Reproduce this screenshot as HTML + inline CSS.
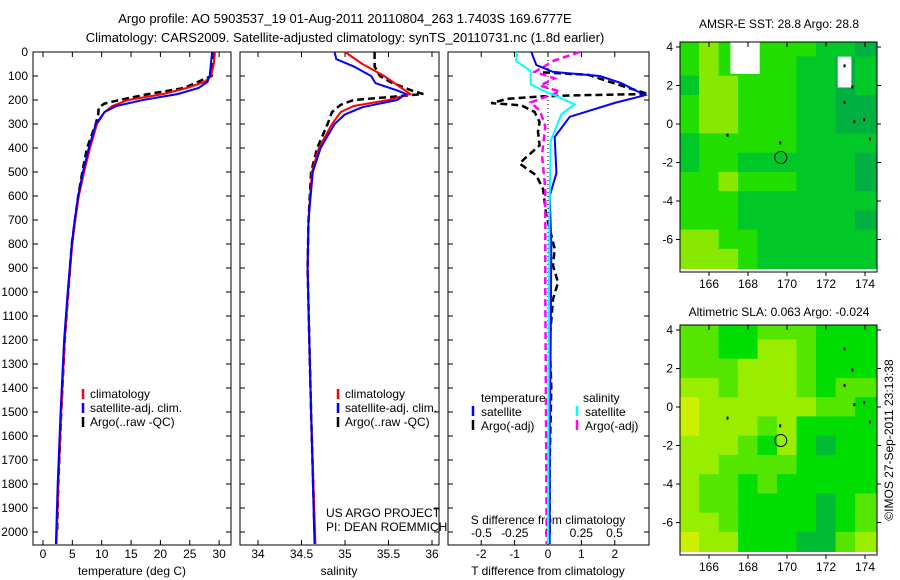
<!DOCTYPE html>
<html><head><meta charset="utf-8"><style>
body{margin:0;background:#fff}
svg{display:block;font-family:"Liberation Sans",sans-serif}
text{font-size:12px;fill:#000}
</style></head><body>
<svg id="s" width="900" height="580" viewBox="0 0 900 580">
<text x="345" y="23" text-anchor="middle" style="font-size:13px">Argo profile: AO 5903537_19 01-Aug-2011 20110804_263 1.7403S 169.6777E</text>
<text x="345" y="42" text-anchor="middle" style="font-size:13px">Climatology: CARS2009. Satellite-adjusted climatology: synTS_20110731.nc (1.8d earlier)</text>
<text x="779" y="28" text-anchor="middle">AMSR-E SST: 28.8 Argo: 28.8</text>
<text x="779" y="316" text-anchor="middle">Altimetric SLA: 0.063 Argo: -0.024</text>
<text transform="translate(893,440) rotate(-90)" text-anchor="middle">©IMOS 27-Sep-2011 23:13:38</text>
<g id="g"></g>
</svg>
<script>
// ---- data ----
const tempClim=[[0,29.3],[50,29.1],[100,28.6],[125,27.5],[150,24.5],[175,20.5],[200,14.5],[225,11.8],[250,10.5],[300,9.2],[400,8],[500,7],[600,6.1],[700,5.5],[800,5],[1000,4.3],[1200,3.7],[1500,3.1],[1800,2.6],[2050,2.3]];
const tempSat=[[0,28.8],[50,28.6],[100,28.4],[125,28],[150,26.5],[175,23],[200,17],[225,12.5],[250,10.5],[300,9],[400,7.8],[500,6.8],[600,6],[700,5.4],[800,4.9],[1000,4.2],[1200,3.6],[1500,3.0],[1800,2.5],[2050,2.2]];
const tempArgo=[[0,28.9],[100,28.7],[150,24],[175,18],[200,13],[215,10.5],[230,9.5],[260,9.4],[300,9],[400,7.5],[500,6.7],[600,6],[800,4.9],[1000,4.3],[1200,3.7],[1500,3.1],[1800,2.6],[2000,2.4]];
const salClim=[[0,35.0],[50,35.2],[100,35.45],[150,35.65],[175,35.75],[200,35.5],[225,35.1],[250,34.95],[300,34.85],[400,34.7],[500,34.62],[700,34.58],[900,34.57],[1200,34.59],[1500,34.61],[2050,34.66]];
const salSat=[[0,34.88],[30,34.9],[60,35.1],[100,35.3],[130,35.35],[160,35.6],[175,35.7],[200,35.6],[230,35.2],[260,35],[300,34.88],[400,34.72],[500,34.63],[700,34.58],[900,34.57],[1200,34.59],[1500,34.61],[2050,34.65]];
const salArgo=[[0,35.34],[60,35.34],[100,35.4],[130,35.55],[165,35.8],[175,35.9],[185,35.6],[200,35.1],[220,34.95],[250,34.85],[300,34.8],[400,34.68],[500,34.61],[700,34.58],[900,34.57],[1200,34.59],[1500,34.61],[2000,34.65]];
const dTsat=[[0,-0.5],[54,-0.35],[83,0.15],[100,1.55],[130,2.2],[180,2.9],[212,2.0],[270,0.65],[354,0.2],[505,0.25],[600,0.05],[800,0.1],[1200,0.08],[1600,0.05],[2050,0.05]];
const dTargo=[[85,-0.15],[95,1.2],[145,2.3],[175,3.0],[180,1.0],[185,-0.2],[195,-1.2],[213,-1.7],[222,-0.8],[250,-0.4],[292,-0.25],[333,-0.3],[389,-0.25],[444,-0.7],[465,-0.85],[514,-0.35],[570,-0.15],[680,-0.05],[820,0.2],[890,0.15],[960,0.3],[1030,0.15],[1200,0.05],[1400,0.1],[1700,0.05],[2000,0.05]];
const dSsat=[[0,-0.23],[37,-0.24],[80,-0.13],[135,-0.13],[165,-0.02],[190,0.09],[218,0.2],[260,0.1],[315,0.06],[370,0.02],[700,0.01],[2050,0.0]];
const dSargo=[[0,0.24],[35,0.05],[83,-0.1],[110,0.05],[140,-0.06],[165,0.09],[210,-0.13],[245,-0.06],[310,-0.02],[430,-0.045],[570,-0.02],[1000,-0.02],[1500,-0.015],[2050,-0.01]];
const depthTicks=[0,100,200,300,400,500,600,700,800,900,1000,1100,1200,1300,1400,1500,1600,1700,1800,1900,2000];
const tTicks=[0,5,10,15,20,25,30];
const sTicks=[34,34.5,35,35.5,36];
const sTickLabels=["34","34.5","35","35.5","36"];
const dTTicks=[-2,-1,0,1,2];
const dSTicks=[-0.5,-0.25,0,0.25,0.5];
const lonTicks=[166,168,170,172,174];
const latTicks=[4,2,0,-2,-4,-6];
// map cells: 1-degree, rows lat 4..-7, cols lon 165..174
const sstGrid=["2322222110","2322221101","1332221101","2332221100","2332221100","1222221111","1221111110","2232221110","2221111111","2221111110","3322111111","3332111111"];
const slaGrid=["2211222111","2211332111","2223332111","3323332122","4333333221","4333231111","3332131011","3322221111","3221211111","3221111012","3321111012","4331110023"];
const sstColors=["#00b040","#00c828","#22dd00","#88e800"];
const slaColors=["#00bb33","#00dd00","#55e600","#99ee00","#ccf000"];
// ---- drawing ----
const NS='http://www.w3.org/2000/svg',G=document.getElementById('g');
function mk(t,a,p){const e=document.createElementNS(NS,t);for(const k in a)e.setAttribute(k,a[k]);(p||G).appendChild(e);return e;}
const yD=d=>52+d*0.24;
function panel(x0,x1,name){const r=mk('rect',{x:x0,y:52,width:x1-x0,height:493,fill:'none',stroke:'#000','stroke-width':1});}
function line(data,fx,color,w,dash,name){const pts=data.map(p=>fx(p[1]).toFixed(1)+','+yD(p[0]).toFixed(1)).join(' ');const a={points:pts,fill:'none',stroke:color,'stroke-width':w};if(dash)a['stroke-dasharray']=dash;const e=mk('polyline',a);}
function txt(x,y,s,anchor,name){const e=mk('text',{x:x,y:y,'text-anchor':anchor||'start'});e.textContent=s;return e;}
function xticks(vals,labels,fx,ly,name){vals.forEach((v,i)=>{const x=fx(v);mk('line',{x1:x,x2:x,y1:545,y2:540,stroke:'#000'});mk('line',{x1:x,x2:x,y1:52,y2:57,stroke:'#000'});txt(x,ly,labels[i],'middle',name);});}
function dticks(x0,x1,labels){depthTicks.forEach(d=>{const y=yD(d);mk('line',{x1:x0,x2:x0+5,y1:y,y2:y,stroke:'#000'});mk('line',{x1:x1,x2:x1-5,y1:y,y2:y,stroke:'#000'});if(labels)txt(28,y+4,String(d),'end','depth-tick-label');});}
// Panel 1 temperature
const fT=v=>43+v*5.87;
panel(33,231,'temperature-panel');dticks(33,231,true);
xticks(tTicks,tTicks.map(String),fT,558,'temperature-tick-label');
txt(132,575,'temperature (deg C)','middle','temperature-axis-title');
line(tempArgo,fT,'#000',2.5,'7,4','temp-argo-line');
line(tempClim,fT,'#f00',2,null,'temp-climatology-line');
line(tempSat,fT,'#00f',2,null,'temp-satellite-line');
// Panel 2 salinity
const fS=v=>258+(v-34)*87;
panel(240,439,'salinity-panel');dticks(240,439,false);
xticks(sTicks,sTickLabels,fS,558,'salinity-tick-label');
txt(339,575,'salinity','middle','salinity-axis-title');
line(salArgo,fS,'#000',2.5,'7,4','sal-argo-line');
line(salClim,fS,'#f00',2,null,'sal-climatology-line');
line(salSat,fS,'#00f',2,null,'sal-satellite-line');
txt(326,517,'US ARGO PROJECT','start','project-label');
txt(326,531,'PI: DEAN ROEMMICH','start','pi-label');
// legends 1 & 2
[[83,'temp-legend'],[338,'sal-legend']].forEach(([lx,nm])=>{[['#f00','climatology'],['#00f','satellite-adj. clim.'],['#000','Argo(..raw -QC)']].forEach((it,i)=>{const y=398+i*14;mk('line',{x1:lx,x2:lx,y1:y-9,y2:y+1,stroke:it[0],'stroke-width':2.5});txt(lx+7,y,it[1],'start',nm+'-entry');});});
// Panel 3 differences
const fdT=v=>548+v*33.4, fdS=v=>548+v*133;
panel(448,649,'difference-panel');dticks(448,649,false);
mk('line',{x1:548,x2:548,y1:52,y2:545,stroke:'#000','stroke-dasharray':'1,3'});
xticks(dTTicks,dTTicks.map(String),fdT,558,'t-diff-tick-label');
dSTicks.forEach((v,i)=>txt(fdS(v),537,['-0.5','-0.25','0','0.25','0.5'][i],'middle','s-diff-tick-label'));
txt(548,524,'S difference from climatology','middle','s-diff-axis-title');
txt(548,575,'T difference from climatology','middle','t-diff-axis-title');
line(dTargo,fdT,'#000',2.5,'7,4','tdiff-argo-line');
line(dSargo,fdS,'#f0f',2.5,'7,4','sdiff-argo-line');
line(dTsat,fdT,'#00f',2,null,'tdiff-satellite-line');
line(dSsat,fdS,'#0ff',2,null,'sdiff-satellite-line');
txt(481,402,'temperature','start','legend-temperature-header');
txt(583,402,'salinity','start','legend-salinity-header');
[[473,'#00f','satellite',416],[473,'#000','Argo(-adj)',430],[577,'#0ff','satellite',416],[577,'#f0f','Argo(-adj)',430]].forEach(it=>{mk('line',{x1:it[0],x2:it[0],y1:it[3]-10,y2:it[3],stroke:it[1],'stroke-width':2.5});txt(it[0]+8,it[3],it[2],'start','diff-legend-entry');});
// Maps
function map(top,grid,colors,name){const x0=680,x1=877,h=230;const fx=l=>709+(l-166)*19.5, fy=la=>top+5+(4-la)*19.25;
 const cp=mk('clipPath',{id:name+'-clip'});mk('rect',{x:x0,y:top,width:x1-x0,height:h-3},cp);
 const g=mk('g',{'clip-path':'url(#'+name+'-clip)'});
 mk('rect',{x:x0,y:top,width:x1-x0,height:h,fill:colors[1]},g);
 grid.forEach((row,r)=>{for(let c=0;c<row.length;c++){const lon=165+c, lat=4-r;const last=(c===row.length-1)?20:0, bot=(r===grid.length-1)?10:0, first=(r===0)?10:0;mk('rect',{x:fx(lon-0.5)-0.2,y:fy(lat+0.5)-0.2-first,width:19.9+last,height:19.7+bot+first,fill:colors[+row[c]]||colors[0]},g);}});
 const fr=mk('rect',{x:x0,y:top,width:x1-x0,height:h,fill:'none',stroke:'#000'});
 lonTicks.forEach(l=>{const x=fx(l);mk('line',{x1:x,x2:x,y1:top,y2:top+5,stroke:'#000'});mk('line',{x1:x,x2:x,y1:top+h,y2:top+h+4,stroke:'#000'});txt(x,top+h+16,String(l),'middle','lon-tick-label');});
 latTicks.forEach(la=>{const y=fy(la);mk('line',{x1:x0-4,x2:x0,y1:y,y2:y,stroke:'#000'});mk('line',{x1:x1,x2:x1+4,y1:y,y2:y,stroke:'#000'});txt(673,y+4,String(la),'end','lat-tick-label');});
 const c=mk('circle',{cx:fx(169.68),cy:fy(-1.74),r:6,fill:'none',stroke:'#000'});
 [[172.9,3.1],[173.3,2],[172.9,1.2],[173.9,0.3],[173.4,0.2],[174.2,-0.7],[169.6,-0.9],[166.9,-0.5]].forEach(p=>mk('rect',{x:fx(p[0]),y:fy(p[1]),width:2,height:3,fill:'#000'}));
 return {fx,fy,g};}
const m1=map(42,sstGrid,sstColors,'sst-map');
[[167.1,168.6,2.6,4.3],[172.6,173.3,1.9,3.5],[174.4,175,-0.6,-2]].forEach(b=>mk('rect',{x:m1.fx(b[0]),y:m1.fy(b[3]),width:(b[1]-b[0])*19.5,height:(b[3]-b[2])*19.25,fill:'#fff'},m1.g));
map(325,slaGrid,slaColors,'sla-map');
</script>
</body></html>
